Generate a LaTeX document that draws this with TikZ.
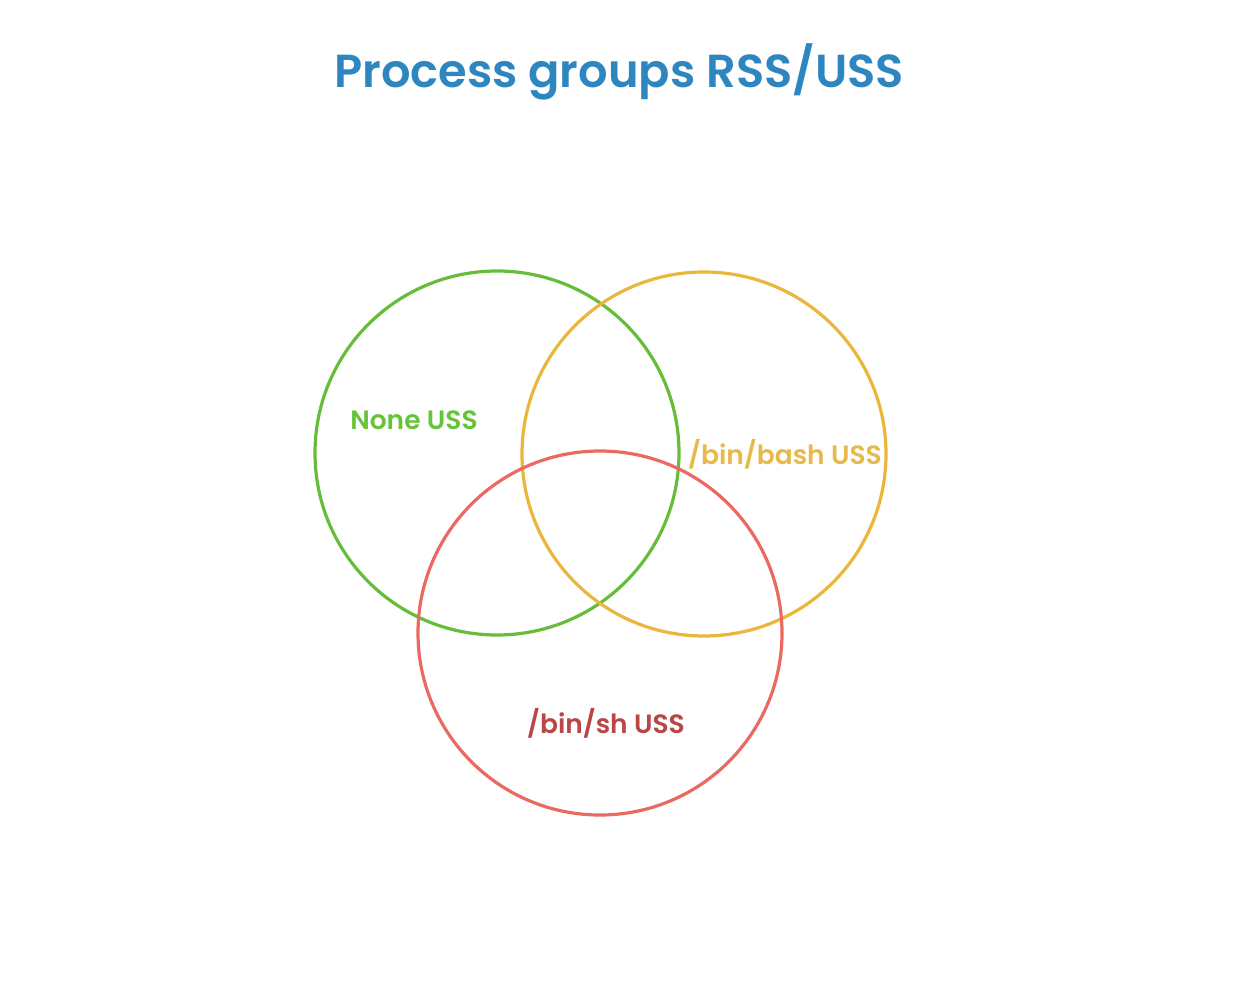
\documentclass[tikz,border=0pt]{standalone}
\usepackage{fontspec}
\setmainfont{Poppins}[BoldFont={Poppins SemiBold}]
\definecolor{titleblue}{HTML}{2E86C1}
\definecolor{cgreen}{HTML}{67BD3A}
\definecolor{corange}{HTML}{EBB63C}
\definecolor{cred}{HTML}{EA6A62}
\definecolor{lgreen}{HTML}{66C43A}
\definecolor{lorange}{HTML}{E8B94A}
\definecolor{lred}{HTML}{BA4646}
\begin{document}
\begin{tikzpicture}[x=1pt,y=-1pt,
  venn/.style={draw=#1, line width=3.2pt, fill=none, circle, minimum size=364pt, inner sep=0pt},
  lbl/.style={text=#1, font=\fontsize{26.5}{30}\selectfont\bfseries, inner sep=0pt}]
\useasboundingbox (0,0) rectangle (1244,1000);
\node[text=titleblue, font=\fontsize{46.3}{52}\selectfont\bfseries, inner sep=0pt] (title) at (619,72) {Process groups RSS/USS};
\node[venn=cgreen] (green) at (497,453) {};
\node[venn=corange] (orange) at (704,454) {};
\node[venn=cred] (red) at (600,633) {};
\node[lbl=lgreen] (l1) at (414,420) {None USS};
\node[lbl=lorange] (l2) at (785,454) {/bin/bash USS};
\node[lbl=lred] (l3) at (606,723) {/bin/sh USS};
\end{tikzpicture}
\end{document}
